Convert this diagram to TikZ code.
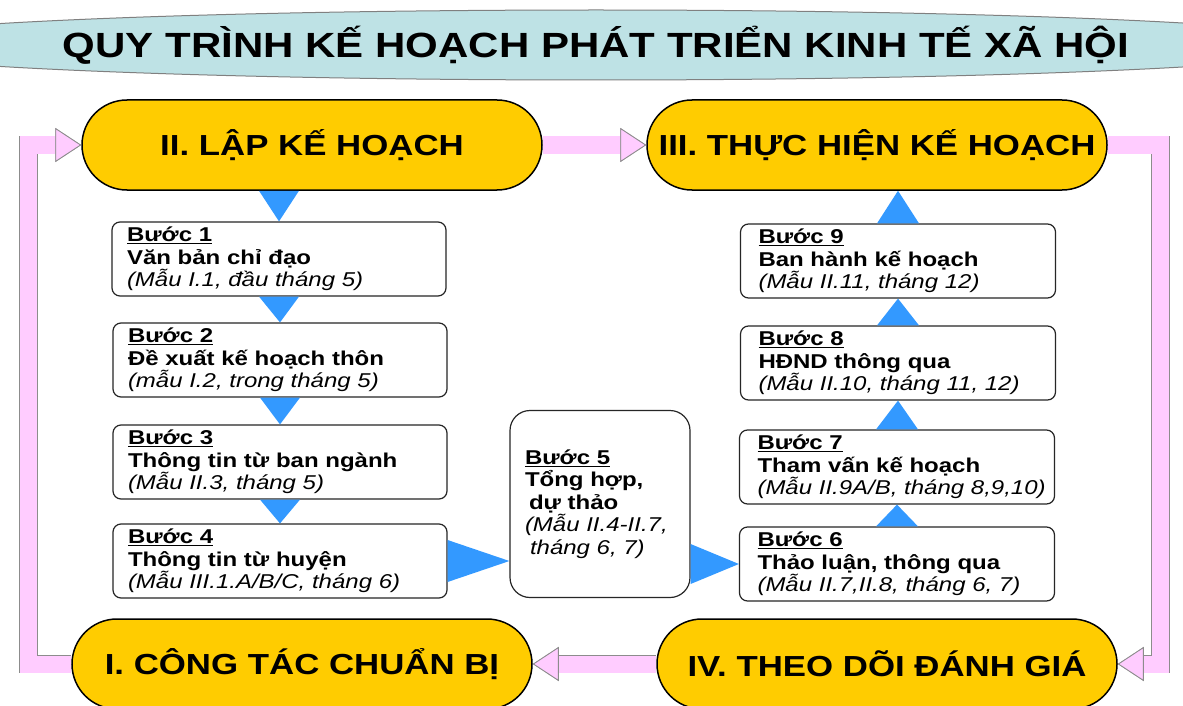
\documentclass[tikz,border=0pt]{standalone}
\usepackage{fontspec}
\setmainfont{Liberation Sans}[FakeStretch=1.2]
\usepackage{tikz}
\usetikzlibrary{shapes.geometric, arrows.meta, calc}
\definecolor{goldfill}{RGB}{255,204,0}
\definecolor{titlefill}{RGB}{190,226,229}
\definecolor{pinkfill}{RGB}{255,204,255}
\definecolor{bluefill}{RGB}{51,153,255}
\tikzstyle{title} = [ellipse, draw=gray, line width=1pt, fill=titlefill, minimum width=1178pt, minimum height=70pt, inner sep=0pt, font=\fontsize{35}{40}\selectfont\bfseries]
\tikzstyle{phase} = [rectangle, rounded corners=45pt, minimum width=460pt, minimum height=90pt, draw=black, line width=1.5pt, fill=goldfill, font=\fontsize{29}{34}\selectfont\bfseries]
\tikzstyle{stepbox} = [rectangle, rounded corners=8pt, draw=black!85, line width=1.2pt, fill=white, minimum height=74pt, inner ysep=3pt, align=left, font=\fontsize{20}{22.5}\selectfont\bfseries]
\tikzstyle{leftbox} = [stepbox, text width=304pt, inner xsep=15pt]
\tikzstyle{rightbox} = [stepbox, text width=279pt, inner xsep=18pt]
\tikzstyle{mergebox} = [stepbox, rounded corners=20pt, text width=150pt, inner xsep=15pt, minimum height=187pt]
\tikzstyle{tri} = [fill=bluefill, draw=none]
\tikzstyle{pipe} = [line width=17pt, draw=pinkfill, -{Triangle[length=26pt, width=34pt, line width=0.8pt, fill=pinkfill, color=gray!90]}, preaction={draw=gray!90, line width=18.6pt, -{Triangle[length=26pt, width=34pt, line width=0.8pt, fill=pinkfill, color=gray!90]}}]
\newcommand{\ghichu}[1]{\mbox{\mdseries\itshape #1}}

\begin{document}
\begin{tikzpicture}[x=1pt, y=-1pt]

\path[use as bounding box, fill=white] (0,0) rectangle (1183,706);

\node (tieude) [title] at (596,45) {QUY TRÌNH KẾ HOẠCH PHÁT TRIỂN KINH TẾ XÃ HỘI};

\node (lap) [phase] at (312,145) {II. LẬP KẾ HOẠCH};
\node (thuchien) [phase] at (877,145) {III. THỰC HIỆN KẾ HOẠCH};
\node (chuanbi) [phase] at (302,664) {I. CÔNG TÁC CHUẨN BỊ};
\node (theodoi) [phase] at (887,664) {IV. THEO DÕI ĐÁNH GIÁ};

\node (buoc1) [leftbox] at (279,259) {\underline{Bước 1}\\Văn bản chỉ đạo\\\ghichu{(Mẫu I.1, đầu tháng 5)}};
\node (buoc2) [leftbox] at (280,360) {\underline{Bước 2}\\Đề xuất kế hoạch thôn\\\ghichu{(mẫu I.2, trong tháng 5)}};
\node (buoc3) [leftbox] at (280,462) {\underline{Bước 3}\\Thông tin từ ban ngành\\\ghichu{(Mẫu II.3, tháng 5)}};
\node (buoc4) [leftbox] at (280,561) {\underline{Bước 4}\\Thông tin từ huyện\\\ghichu{(Mẫu III.1.A/B/C, tháng 6)}};
\node (buoc5) [mergebox] at (600,504) {\underline{Bước 5}\\Tổng hợp,\\\hspace*{4pt}dự thảo\\\ghichu{(Mẫu II.4-II.7,}\\\ghichu{\hspace*{5pt}tháng 6, 7)}};
\node (buoc6) [rightbox] at (897,564) {\underline{Bước 6}\\Thảo luận, thông qua\\\ghichu{(Mẫu II.7,II.8, tháng 6, 7)}};
\node (buoc7) [rightbox] at (897,467) {\underline{Bước 7}\\Tham vấn kế hoạch\\\ghichu{(Mẫu II.9A/B, tháng 8,9,10)}};
\node (buoc8) [rightbox] at (898,363) {\underline{Bước 8}\\HĐND thông qua\\\ghichu{(Mẫu II.10, tháng 11, 12)}};
\node (buoc9) [rightbox] at (898,261) {\underline{Bước 9}\\Ban hành kế hoạch\\\ghichu{(Mẫu II.11, tháng 12)}};

% blue triangles, left column going down
\fill[tri] ($(lap.south -| buoc1.north)+(-20,0)$) -- ($(lap.south -| buoc1.north)+(20,0)$) -- (buoc1.north) -- cycle;
\fill[tri] ($(buoc1.south)+(-20,0)$) -- ($(buoc1.south)+(20,0)$) -- (buoc2.north) -- cycle;
\fill[tri] ($(buoc2.south)+(-20,0)$) -- ($(buoc2.south)+(20,0)$) -- (buoc3.north) -- cycle;
\fill[tri] ($(buoc3.south)+(-20,0)$) -- ($(buoc3.south)+(20,0)$) -- (buoc4.north) -- cycle;
\fill[tri] ($(buoc4.east)+(0,-21)$) -- ($(buoc4.east)+(0,21)$) -- (buoc5.west |- buoc4.east) -- cycle;
\fill[tri] ($(buoc5.east |- buoc6.west)+(0,-20)$) -- ($(buoc5.east |- buoc6.west)+(0,20)$) -- (buoc6.west) -- cycle;
% right column going up
\fill[tri] ($(buoc6.north)+(-21,0)$) -- ($(buoc6.north)+(21,0)$) -- (buoc7.south) -- cycle;
\fill[tri] ($(buoc7.north)+(-21,0)$) -- ($(buoc7.north)+(21,0)$) -- (buoc8.south) -- cycle;
\fill[tri] ($(buoc8.north)+(-21,0)$) -- ($(buoc8.north)+(21,0)$) -- (buoc9.south) -- cycle;
\fill[tri] ($(buoc9.north)+(-21,0)$) -- ($(buoc9.north)+(21,0)$) -- (buoc9.north |- thuchien.south) -- cycle;

% pink loop
\draw[pipe] (chuanbi.west) -- ++(-43,0) |- (lap.west);
\draw[pipe] (lap.east) -- (thuchien.west);
\draw[pipe] (thuchien.east) -- ++(53,0) |- (theodoi.east);
\draw[pipe] (theodoi.west) -- (chuanbi.east);

\end{tikzpicture}
\end{document}
